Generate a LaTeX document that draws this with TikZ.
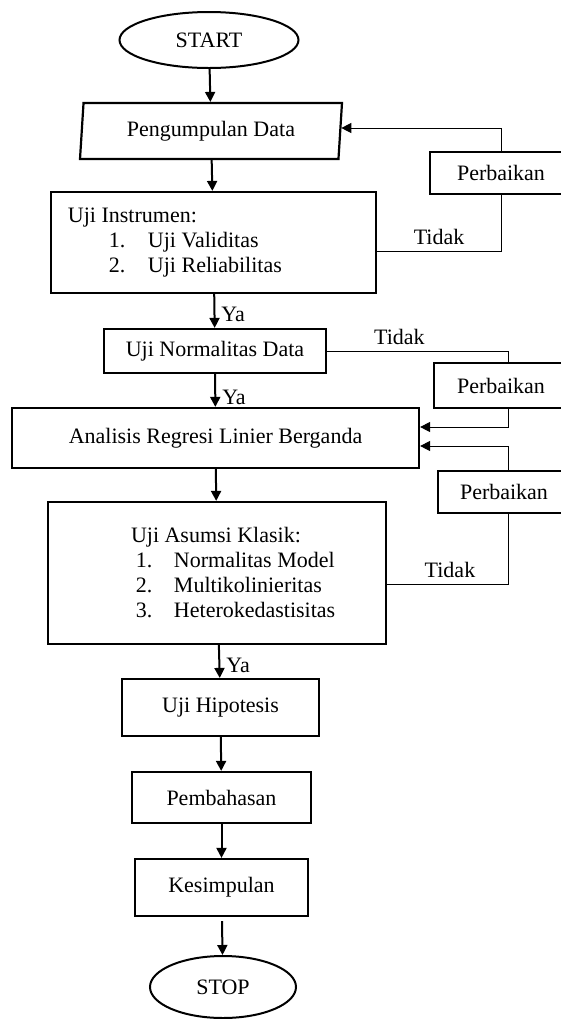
\documentclass[tikz,border=0pt]{standalone}
\usepackage{fontspec}
\setmainfont{Liberation Serif}
\usetikzlibrary{shapes.geometric,arrows.meta}

\begin{document}
\begin{tikzpicture}[x=0.5pt,y=-0.5pt,
  every node/.style={font=\fontsize{11}{12.5}\selectfont},
  box/.style={draw,line width=1.1pt,inner sep=0pt},
  term/.style={draw,ellipse,line width=1pt,inner sep=0pt},
  flow/.style={line width=1pt,-{Triangle[length=5pt,width=5pt]}},
  link/.style={line width=0.5pt},
  back/.style={line width=0.5pt,-{Triangle[length=5pt,width=5pt]}},
  tag/.style={inner sep=3pt}]
  \useasboundingbox (0,0) rectangle (561,1019);
  \clip (0,0) rectangle (561,1019);

  % main column
  \node[term,minimum width=89.5pt,minimum height=28pt] (start) at (209,40) {START};
  \node[draw,trapezium,trapezium left angle=80,trapezium right angle=100,trapezium stretches body,
        line width=1.1pt,inner sep=0pt,minimum width=131pt,minimum height=28pt] (data) at (211,131) {Pengumpulan Data};
  \node[box,minimum width=162.5pt,minimum height=50.5pt,text width=145.5pt,align=flush left] (instr) at (213.5,242.5)
    {Uji Instrumen:\\
     \hspace*{20.5pt}\makebox[19.5pt][l]{1.}Uji Validitas\\
     \hspace*{20.5pt}\makebox[19.5pt][l]{2.}Uji Reliabilitas};
  \node[box,minimum width=111pt,minimum height=22pt] (norm) at (215,351) {Uji Normalitas Data};
  \node[box,minimum width=203.5pt,minimum height=30pt] (anal) at (215.5,438) {Analisis Regresi Linier Berganda};
  \node[box,minimum width=169pt,minimum height=71pt,text width=160pt,align=flush left] (asum) at (217,573)
    {\hspace*{37pt}Uji Asumsi Klasik:\\
     \hspace*{39.5pt}\makebox[19pt][l]{1.}Normalitas Model\\
     \hspace*{39.5pt}\makebox[19pt][l]{2.}Multikolinieritas\\
     \hspace*{39.5pt}\makebox[19pt][l]{3.}Heterokedastisitas};
  \node[box,minimum width=98.5pt,minimum height=28.5pt] (hipo) at (220.5,707.5) {Uji Hipotesis};
  \node[box,minimum width=89.5pt,minimum height=25.5pt] (pemb) at (221.5,797.5) {Pembahasan};
  \node[box,minimum width=86.5pt,minimum height=28.5pt] (kesi) at (221.5,887.5) {Kesimpulan};
  \node[term,minimum width=73pt,minimum height=31pt] (stop) at (223,987) {STOP};

  % correction boxes
  \node[box,minimum width=71pt,minimum height=21pt] (fix1) at (501,173) {Perbaikan};
  \node[box,minimum width=67pt,minimum height=22.5pt] (fix2) at (501,385.5) {Perbaikan};
  \node[box,minimum width=66pt,minimum height=21pt] (fix3) at (504,492) {Perbaikan};

  % flow
  \draw[flow] (start) -- (data);
  \draw[flow] (data) -- (instr);
  \draw[flow] (instr) -- node[tag,right,pos=0.6] {Ya} (norm);
  \draw[flow] (norm) -- node[tag,right,pos=0.7] {Ya} (anal);
  \draw[flow] (anal) -- (asum);
  \draw[flow] (asum) -- node[tag,right,pos=0.63] {Ya} (hipo);
  \draw[flow] (hipo) -- (pemb);
  \draw[flow] (pemb) -- (kesi);
  \draw[flow,shorten <=2pt] (kesi) -- (stop);

  % loops back
  \draw[link] ([yshift=-4.25pt]instr.east) -| node[tag,above,pos=0.25] {Tidak} (fix1.south);
  \draw[back] (fix1.north) |- ([yshift=1.5pt]data.east);
  \draw[link] (norm.east) -| node[tag,above,pos=0.2] {Tidak} ([xshift=3.5pt]fix2.north);
  \draw[back] ([xshift=3.5pt]fix2.south) |- ([yshift=5.5pt]anal.east);
  \draw[link] ([yshift=-5.5pt]asum.east) -| node[tag,above,pos=0.26] {Tidak} ([xshift=2pt]fix3.south);
  \draw[back] ([xshift=2pt]fix3.north) |- ([yshift=-4pt]anal.east);
\end{tikzpicture}
\end{document}
